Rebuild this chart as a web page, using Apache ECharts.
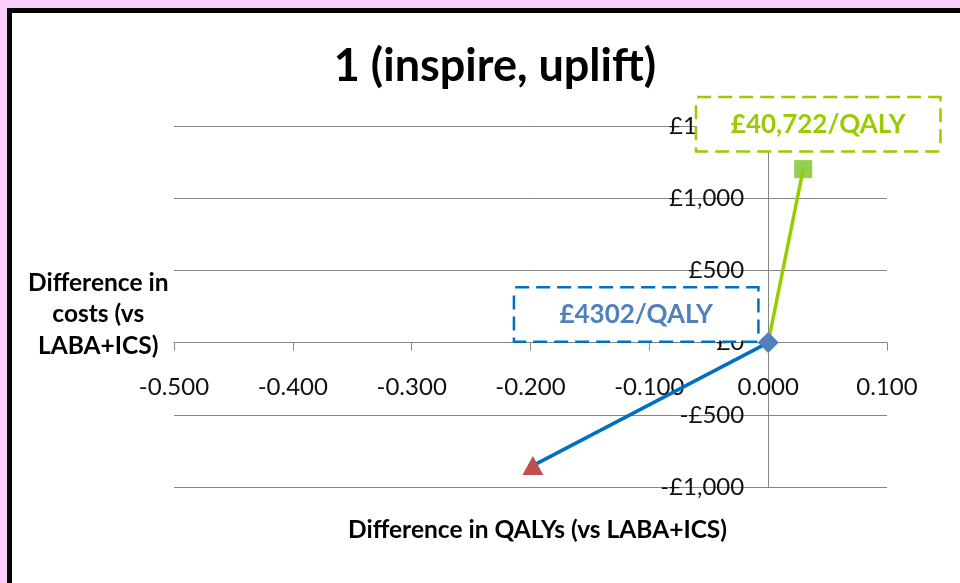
<!DOCTYPE html>
<html>
<head>
<meta charset="utf-8">
<script src="https://cdn.jsdelivr.net/npm/echarts@6/dist/echarts.min.js"></script>
<style>
  html, body { margin: 0; padding: 0; }
  body { width: 960px; height: 583px; background: #facdfa; position: relative; overflow: hidden; }
  #frame { position: absolute; left: 7px; top: 8px; width: 1000px; height: 700px;
           border-left: 5px solid #000; border-top: 5px solid #000; background: #fff; }
  #chart { position: absolute; left: 0; top: 0; width: 960px; height: 583px; }
</style>
</head>
<body>
<div id="frame"></div>
<div id="chart"></div>
<script>
// Incremental results versus LABA+ICS: QALY difference and cost difference
const comparators = ['Reference', 'Option A', 'Option B'];
const qalyDiff = [0, -0.198, 0.0295];
const costDiff = [0, -851.8, 1201.3];
// Cost per QALY for each option versus the reference
const icerText = ['', '£4302/QALY', '£40,722/QALY'];

// Axis ranges and steps
const xMin = -0.5, xMax = 0.1, xStep = 0.1;
const yMin = -1000, yMax = 1500, yStep = 500;

const FONT = 'Lato, "Open Sans", sans-serif';
const GRID = { left: 174, right: 73, top: 126, bottom: 96 };
const W = 960, H = 583;

function pounds(v) {
  const s = '£' + Math.abs(v).toLocaleString('en-GB');
  return v < 0 ? '-' + s : s;
}

function boxLabel(text, textColor, borderColor, offset) {
  return {
    show: true,
    position: 'inside',
    align: 'center',
    verticalAlign: 'middle',
    offset: offset,
    formatter: text,
    color: textColor,
    fontFamily: FONT,
    fontWeight: 'bold',
    fontSize: 26,
    width: 242,
    height: 52,
    lineHeight: 52,
    padding: 0,
    backgroundColor: '#ffffff',
    borderColor: borderColor,
    borderWidth: 2.5,
    borderType: [14, 7]
  };
}

const chart = echarts.init(document.getElementById('chart'), null, { renderer: 'canvas' });

const option = {
  backgroundColor: 'transparent',
  animation: false,
  title: {
    text: '1 (inspire, uplift)',
    left: 490,
    top: 39,
    textAlign: 'center',
    textStyle: { fontFamily: FONT, fontWeight: 'bold', fontSize: 45, color: '#000' }
  },
  grid: Object.assign({ containLabel: false }, GRID),
  xAxis: {
    type: 'value',
    position: 'bottom',
    min: xMin, max: xMax, interval: xStep,
    axisLine: { show: true, onZero: false, lineStyle: { color: '#868686', width: 1 } },
    axisTick: { show: true, length: 8, lineStyle: { color: '#868686' } },
    splitLine: { show: false },
    axisLabel: {
      margin: 33,
      fontFamily: FONT, fontSize: 24, color: '#111',
      formatter: v => v.toFixed(3)
    }
  },
  yAxis: {
    type: 'value',
    position: 'left',
    min: yMin, max: yMax, interval: yStep,
    axisLine: { show: true, onZero: false, lineStyle: { color: '#868686', width: 1 } },
    axisTick: { show: false },
    splitLine: { show: true, lineStyle: { color: '#868686', width: 1 } },
    axisLabel: {
      margin: 24,
      fontFamily: FONT, fontSize: 24, color: '#111',
      formatter: v => pounds(v)
    }
  },
  graphic: [
    {
      type: 'text', left: 28, top: 267, z: 10,
      style: {
        text: 'Difference in\ncosts (vs\nLABA+ICS)',
        textAlign: 'center',
        fill: '#000', fontFamily: FONT, fontWeight: 'bold', fontSize: 24.5, lineHeight: 31.5
      }
    },
    {
      type: 'text', left: 348, top: 518, z: 10,
      style: {
        text: 'Difference in QALYs (vs LABA+ICS)',
        fill: '#000', fontFamily: FONT, fontWeight: 'bold', fontSize: 24.5
      }
    }
  ],
  // Series live on their own layer so the ICER boxes sit above the axis labels
  series: [
    {
      // Option B marker sits under the connecting line
      type: 'scatter', zlevel: 1, z: 2,
      symbol: 'rect', symbolSize: 18,
      itemStyle: { color: '#92d050', opacity: 1 },
      data: [{
        value: [qalyDiff[2], costDiff[2]],
        label: boxLabel(icerText[2], '#99cc00', '#99cc00', [15, -45])
      }]
    },
    {
      type: 'line', zlevel: 1, z: 3, showSymbol: false, symbol: 'none',
      lineStyle: { color: '#0070c0', width: 3.5 },
      data: [[qalyDiff[1], costDiff[1]], [qalyDiff[0], costDiff[0]]]
    },
    {
      type: 'line', zlevel: 1, z: 3, showSymbol: false, symbol: 'none',
      lineStyle: { color: '#99cc00', width: 3.5 },
      data: [[qalyDiff[0], costDiff[0]], [qalyDiff[2], costDiff[2]]]
    },
    {
      type: 'scatter', zlevel: 1, z: 4,
      itemStyle: { opacity: 1 },
      data: [
        {
          value: [qalyDiff[0], costDiff[0]],
          symbol: 'diamond', symbolSize: [21, 21],
          itemStyle: { color: '#4f81bd', opacity: 1 },
          label: boxLabel(icerText[1], '#4f81bd', '#0070c0', [-132, -28])
        },
        {
          value: [qalyDiff[1], costDiff[1]],
          symbol: 'triangle', symbolSize: [21, 19],
          itemStyle: { color: '#c0504d', opacity: 1 }
        }
      ]
    }
  ]
};

chart.setOption(option);

// Both axes cross at the origin: shift each axis from the grid edge to zero
const origin = chart.convertToPixel({ gridIndex: 0 }, [0, 0]);
chart.setOption({
  xAxis: { offset: origin[1] - (H - GRID.bottom) },
  yAxis: { offset: GRID.left - origin[0] }
});
</script>
</body>
</html>
